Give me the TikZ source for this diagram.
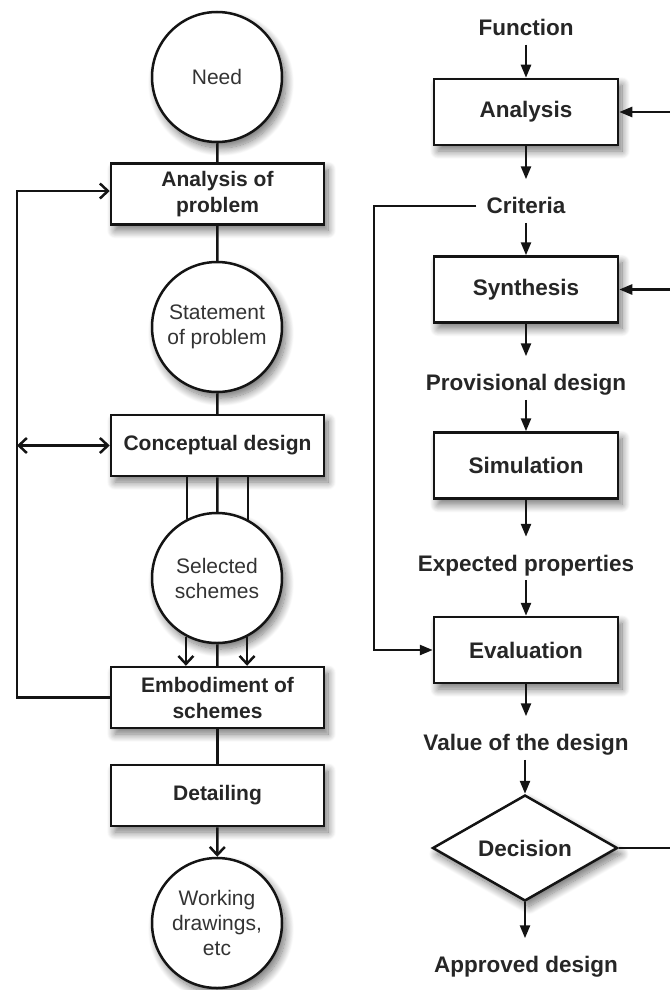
\documentclass[tikz,border=0pt]{standalone}
\usepackage{fontspec}
\setmainfont{Liberation Sans}
\usetikzlibrary{arrows.meta,shadows.blur,shapes.geometric,calc}
\begin{document}
\begin{tikzpicture}[x=1pt,y=-1pt,
  line width=2.5pt, draw=black!92,
  every node/.style={font=\fontsize{21}{25}\selectfont, text=black!85},
  sh/.style={blur shadow={shadow xshift=4pt, shadow yshift=-6pt, shadow blur radius=8pt, shadow blur steps=14, shadow opacity=55}},
  lbox/.style={draw, fill=white, sh, minimum width=213pt, minimum height=61pt, align=center, inner sep=0pt, font=\bfseries\fontsize{21}{26}\selectfont},
  rbox/.style={draw, fill=white, sh, minimum width=184pt, minimum height=66pt, inner sep=0pt, font=\bfseries\fontsize{22.5}{27}\selectfont},
  circ/.style={draw, fill=white, sh, circle, minimum size=130pt, inner sep=0pt, align=center, text=black!80},
  lbl/.style={font=\bfseries\fontsize{22.5}{27}\selectfont, inner sep=0pt, text height=15pt, text depth=5pt},
  oarr/.style={-{Straight Barb[length=8pt,width=15pt]}},
  darr/.style={{Straight Barb[length=8pt,width=15pt]}-{Straight Barb[length=8pt,width=15pt]}},
  farr/.style={-{Triangle[length=13pt,width=10pt]}},
  tolbl/.style={farr, shorten >=18pt},
  fromlbl/.style={shorten <=3pt},
]
\useasboundingbox (0,0) rectangle (669,990);

% ---------- left column ----------
\node[circ] (need) at (217,77) {Need};
\node[lbox] (aop) at (217.5,194) {Analysis of\\problem};
\node[circ] (sop) at (217,327) {Statement\\of problem};
\node[lbox] (cd) at (217.5,445.5) {Conceptual design};
\node[circ] (ss) at (217,578) {Selected\\schemes};
\node[lbox] (emb) at (217.5,697.5) {Embodiment of\\schemes};
\node[lbox] (det) at (217.5,795.5) {Detailing};
\node[circ] (wd) at (217,923) {Working\\drawings,\\etc};

\draw (need) -- (aop);
\draw (aop) -- (sop);
\draw (sop) -- (cd);
\draw (cd.south -| ss.117.5) -- (ss.117.5);
\draw (cd) -- (ss);
\draw (cd.south -| ss.62.5) -- (ss.62.5);
\draw[oarr] (ss.242.5) -- (emb.north -| ss.242.5);
\draw (ss) -- (emb);
\draw[oarr] (ss.297.5) -- (emb.north -| ss.297.5);
\draw (emb) -- (det);
\draw[oarr] (det) -- (wd);

\coordinate (fbb) at (17,697.5);
\coordinate (fbt) at (17,191);
\draw[oarr] (emb.west) -- (fbb) -- (fbt) -- ([yshift=3pt]aop.west);
\draw[darr] (cd.west -| fbb) -- (cd.west);

% ---------- right column ----------
\node[lbl] (fn) at (526,30.5) {Function};
\node[rbox] (an) at (526,112) {Analysis};
\node[lbl] (cr) at (526,208.5) {Criteria};
\node[rbox] (sy) at (526,289.5) {Synthesis};
\node[lbl] (pd) at (526,385.5) {Provisional design};
\node[rbox] (si) at (526,465.5) {Simulation};
\node[lbl] (ep) at (526,566) {Expected properties};
\node[rbox] (ev) at (526,650) {Evaluation};
\node[lbl] (vd) at (526,745.5) {Value of the design};
\node[diamond, draw, fill=white, sh, aspect=1.75, inner sep=0pt, minimum width=185pt, minimum height=106pt, font=\bfseries\fontsize{22.5}{27}\selectfont] (dec) at (525,848) {Decision};
\node[lbl] (ad) at (526,967.5) {Approved design};

\draw[farr, fromlbl] (fn) -- (an);
\draw[tolbl] (an) -- (cr);
\draw[farr, fromlbl] (cr) -- (sy);
\draw[tolbl] (sy) -- (pd);
\draw[farr, fromlbl] (pd) -- (si);
\draw[tolbl] (si) -- (ep);
\draw[farr, fromlbl] (ep) -- (ev);
\draw[tolbl] (ev) -- (vd);
\draw[farr, fromlbl] (vd.south -| dec.north) -- (dec.north);
\draw[tolbl] (dec.south) -- (ad.north -| dec.south);

\coordinate (cl1) at (374,206);
\coordinate (cl2) at (374,650);
\draw[farr] ([xshift=-9pt,yshift=2.5pt]cr.west) -- (cl1) -- (cl2) -- (ev.west);

\coordinate (rt1) at (671,112);
\coordinate (rt2) at (671,289.5);
\coordinate (rt3) at (671,848);
\draw[farr] (rt1) -- (an.east);
\draw[farr] (rt2) -- (sy.east);
\draw (dec.east) -- (rt3);
\end{tikzpicture}
\end{document}
